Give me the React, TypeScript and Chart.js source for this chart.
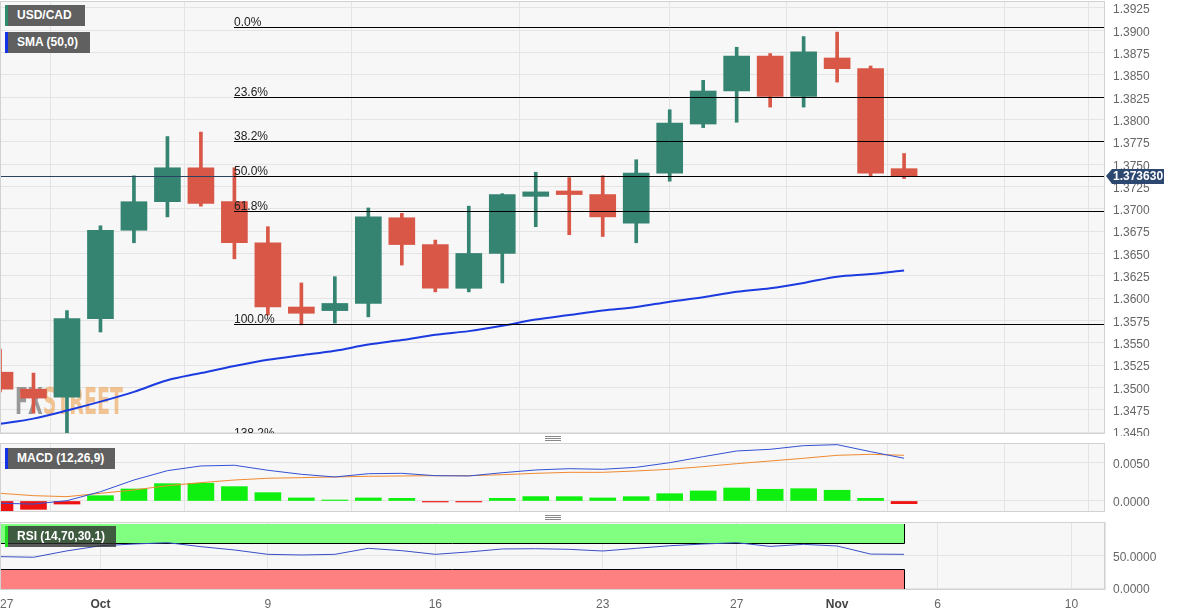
import React, { useEffect, useRef } from 'react';
import { Chart, registerables } from 'chart.js';
Chart.register(...registerables);

const FONT = '"Liberation Sans", Arial, sans-serif';

// trading sessions (x = position in this list)
const sessions = ['Sep 27', 'Sep 28', 'Sep 29', 'Oct 2', 'Oct 3', 'Oct 4', 'Oct 5', 'Oct 6', 'Oct 9', 'Oct 10',
  'Oct 11', 'Oct 12', 'Oct 13', 'Oct 16', 'Oct 17', 'Oct 18', 'Oct 19', 'Oct 20', 'Oct 23', 'Oct 24',
  'Oct 25', 'Oct 26', 'Oct 27', 'Oct 30', 'Oct 31', 'Nov 1', 'Nov 2', 'Nov 3'];

const opens = [1.3517, 1.3498, 1.3489, 1.3577, 1.3676, 1.3708, 1.3746, 1.3708, 1.3662, 1.3590,
  1.3586, 1.3594, 1.3690, 1.3660, 1.3611, 1.3650, 1.3714, 1.3720, 1.3716, 1.3684,
  1.3740, 1.3795, 1.3832, 1.3871, 1.3826, 1.3869, 1.3857, 1.3745];
const highs = [1.3543, 1.3516, 1.3586, 1.3681, 1.3737, 1.3781, 1.3786, 1.3746, 1.3680, 1.3617,
  1.3624, 1.3701, 1.3695, 1.3665, 1.3703, 1.3717, 1.3741, 1.3735, 1.3737, 1.3755,
  1.3811, 1.3844, 1.3881, 1.3874, 1.3893, 1.3898, 1.3860, 1.3762];
const lows = [1.3495, 1.3471, 1.3446, 1.3562, 1.3662, 1.3691, 1.3703, 1.3644, 1.3581, 1.3570,
  1.3572, 1.3579, 1.3637, 1.3607, 1.3607, 1.3617, 1.3680, 1.3671, 1.3669, 1.3662,
  1.3731, 1.3791, 1.3797, 1.3814, 1.3814, 1.3842, 1.3736, 1.3734];
const closes = [1.3498, 1.3488, 1.3577, 1.3676, 1.3708, 1.3746, 1.3706, 1.3662, 1.3590, 1.3583,
  1.3594, 1.3691, 1.3660, 1.3611, 1.3650, 1.3716, 1.3719, 1.3716, 1.3691, 1.3740,
  1.3796, 1.3832, 1.3871, 1.3826, 1.3876, 1.3857, 1.3740, 1.37363];

const sma50 = [1.3459, 1.3465, 1.3474, 1.3484, 1.3495, 1.3508, 1.3516, 1.3524, 1.3531, 1.3536,
  1.3541, 1.3548, 1.3553, 1.3559, 1.3563, 1.3569, 1.3576, 1.3581, 1.3586, 1.3590,
  1.3596, 1.3601, 1.3607, 1.3611, 1.3617, 1.3624, 1.3627, 1.3631];

const macdLine = [-0.0003, -0.0004, 0.00004, 0.00122, 0.00276, 0.00399, 0.00461, 0.0047, 0.00404, 0.00351,
  0.00316, 0.00359, 0.00364, 0.00333, 0.00329, 0.00372, 0.00408, 0.00425, 0.00417, 0.00443,
  0.00504, 0.00583, 0.00658, 0.0068, 0.00728, 0.00741, 0.00649, 0.00562];
const signalLine = [0.00101, 0.0007, 0.00057, 0.00101, 0.00145, 0.00201, 0.00241, 0.00276, 0.00299, 0.00307,
  0.00316, 0.00325, 0.00329, 0.00333, 0.00333, 0.00346, 0.00364, 0.00377, 0.00377, 0.00395,
  0.00417, 0.00452, 0.00491, 0.00526, 0.00562, 0.00601, 0.00614, 0.00601];
const macdHist = [-0.0013, -0.0011, -0.0004, 0.0007, 0.00158, 0.00228, 0.00233, 0.00189, 0.0011, 0.0004,
  0.00003, 0.0004, 0.00035, -0.00003, -0.00003, 0.00035, 0.00058, 0.00057, 0.0004, 0.00057,
  0.00096, 0.00132, 0.00171, 0.00154, 0.00162, 0.00141, 0.00035, -0.00035];

const rsi = [49, 48, 58, 66, 68.7, 70.8, 64.6, 59.4, 52.6, 51.6,
  52.6, 62, 58.3, 52.6, 56.3, 61, 61.4, 60.4, 57.8, 62,
  66, 68.7, 70.8, 65, 68.2, 65.6, 53, 52.6];

const xTickPos = [0, 3, 8, 13, 18, 22, 25, 28, 32, 33];
const xTickLabels = ['27', 'Oct', '9', '16', '23', '27', 'Nov', '6', '10', ''];
const monthTicks = ['Oct', 'Nov'];

const priceTicks = [1.3450, 1.3475, 1.3500, 1.3525, 1.3550, 1.3575, 1.3600, 1.3625, 1.3650, 1.3675,
  1.3700, 1.3725, 1.3750, 1.3775, 1.3800, 1.3825, 1.3850, 1.3875, 1.3900, 1.3925];
const macdTicks = [0, 0.005];
const rsiTicks = [0, 50];

const fibPercents = [0, 23.6, 38.2, 50, 61.8, 100, 138.2];
const fibLabels = ['0.0%', '23.6%', '38.2%', '50.0%', '61.8%', '100.0%', '138.2%'];
const fibHigh = 1.39035;
const fibLow = 1.35705;
const fibStartSession = 7;
const lastPrice = 1.37363;
const lastPriceLabel = '1.373630';

const X_MAX = 33;
const GREEN = '#358472';
const RED = '#d85747';
const GRID = '#e4e4e4';
const AXIS_W = 77;

const candleColors = opens.map((o, i) => (closes[i] >= o ? GREEN : RED));

function xScale(showLabels: boolean, height: number) {
  return {
    type: 'linear',
    min: 0,
    max: X_MAX,
    offset: false,
    afterBuildTicks: (s: any) => {
      s.ticks = xTickPos.map((v) => ({ value: v }));
    },
    afterFit: (s: any) => {
      s.height = height;
      s.paddingLeft = 0;
      s.paddingRight = 0;
    },
    ticks: {
      display: showLabels,
      autoSkip: false,
      maxRotation: 0,
      align: 'inner',
      padding: 7,
      callback: (_v: any, i: number) => xTickLabels[i],
      font: (ctx: any) => ({
        family: FONT,
        size: 12,
        weight: monthTicks.includes(xTickLabels[ctx.index]) ? 'bold' : 'normal',
      }),
      color: (ctx: any) => (monthTicks.includes(xTickLabels[ctx.index]) ? '#444' : '#666'),
    },
    grid: { color: GRID, drawTicks: false },
    border: { display: false },
  };
}

function yScale(min: number, max: number, ticks: number[]) {
  return {
    position: 'right',
    min,
    max,
    afterBuildTicks: (s: any) => {
      s.ticks = ticks.map((v) => ({ value: v }));
    },
    afterFit: (s: any) => {
      s.width = AXIS_W;
      s.paddingTop = 0;
      s.paddingBottom = 0;
    },
    ticks: {
      callback: (v: any) => Number(v).toFixed(4),
      color: '#666',
      font: { family: FONT, size: 12 },
      padding: 8,
      labelOffset: 2,
    },
    grid: { color: GRID, drawTicks: false },
    border: { display: false },
  };
}

const panelPlugin = {
  id: 'panel',
  beforeDraw(chart: any) {
    const { ctx, chartArea: a } = chart;
    ctx.save();
    ctx.fillStyle = '#f7f7f7';
    ctx.fillRect(a.left, a.top, a.right - a.left, a.bottom - a.top);
    ctx.restore();
  },
  afterDraw(chart: any) {
    const { ctx, chartArea: a } = chart;
    ctx.save();
    ctx.strokeStyle = '#d2d2d2';
    ctx.lineWidth = 1;
    ctx.strokeRect(a.left + 0.5, a.top + 0.5, a.right - a.left - 1, a.bottom - a.top - 1);
    ctx.restore();
  },
};

const watermarkPlugin = {
  id: 'watermark',
  beforeDatasetsDraw(chart: any) {
    const { ctx } = chart;
    ctx.save();
    ctx.font = `bold 37px "DejaVu Sans Condensed", "DejaVu Sans", ${FONT}`;
    const wFX = ctx.measureText('FX').width;
    const wAll = ctx.measureText('FXSTREET').width;
    const k = 108 / wAll;
    ctx.translate(15, 414);
    ctx.scale(k, 1);
    ctx.textBaseline = 'alphabetic';
    ctx.fillStyle = 'rgba(120,120,120,0.75)';
    ctx.fillText('FX', 0, 0);
    ctx.fillStyle = 'rgba(236,160,80,0.6)';
    ctx.fillText('STREET', wFX, 0);
    ctx.restore();
  },
};

const fibPlugin = {
  id: 'fib',
  afterDatasetsDraw(chart: any) {
    const { ctx, chartArea: a, scales } = chart;
    const x = scales.x;
    const y = scales.y;
    ctx.save();
    ctx.beginPath();
    ctx.rect(a.left, a.top, a.right - a.left, a.bottom - a.top);
    ctx.clip();
    const py = Math.round(y.getPixelForValue(lastPrice)) + 0.5;
    ctx.strokeStyle = '#2b4161';
    ctx.lineWidth = 1;
    ctx.beginPath();
    ctx.moveTo(a.left, py);
    ctx.lineTo(a.right, py);
    ctx.stroke();
    const x0 = Math.round(x.getPixelForValue(fibStartSession));
    ctx.font = `12px ${FONT}`;
    ctx.textBaseline = 'alphabetic';
    ctx.textAlign = 'left';
    fibPercents.forEach((p, k) => {
      const v = fibHigh - ((fibHigh - fibLow) * p) / 100;
      const yy = Math.round(y.getPixelForValue(v)) + 0.5;
      ctx.strokeStyle = '#000';
      ctx.beginPath();
      ctx.moveTo(x0, yy);
      ctx.lineTo(a.right, yy);
      ctx.stroke();
      ctx.fillStyle = '#222';
      ctx.fillText(fibLabels[k], x0, yy - 2);
    });
    ctx.restore();
  },
  afterDraw(chart: any) {
    const { ctx, chartArea: a, scales } = chart;
    const py = Math.round(scales.y.getPixelForValue(lastPrice));
    ctx.save();
    ctx.fillStyle = '#2c4770';
    ctx.beginPath();
    ctx.moveTo(a.right + 1, py);
    ctx.lineTo(a.right + 7, py - 7);
    ctx.lineTo(a.right + 59, py - 7);
    ctx.lineTo(a.right + 59, py + 8);
    ctx.lineTo(a.right + 7, py + 8);
    ctx.closePath();
    ctx.fill();
    ctx.fillStyle = '#fff';
    ctx.font = `bold 12px ${FONT}`;
    ctx.textBaseline = 'middle';
    ctx.textAlign = 'left';
    ctx.fillText(lastPriceLabel, a.right + 8, py + 1);
    ctx.restore();
  },
};

const rsiBandsPlugin = {
  id: 'rsiBands',
  beforeDatasetsDraw(chart: any) {
    const { ctx, chartArea: a, scales } = chart;
    const x = scales.x;
    const y = scales.y;
    const xr = Math.round(x.getPixelForValue(sessions.length - 1)) + 0.5;
    const l = a.left + 0.5;
    const y100 = Math.round(y.getPixelForValue(100));
    const y70 = Math.round(y.getPixelForValue(70)) + 0.5;
    const y30 = Math.round(y.getPixelForValue(30)) + 0.5;
    const y0 = Math.round(y.getPixelForValue(0)) + 1.5;
    ctx.save();
    ctx.fillStyle = '#80ff80';
    ctx.fillRect(a.left, y100, xr - a.left, y70 - y100);
    ctx.fillStyle = '#ff8080';
    ctx.fillRect(a.left, y30, xr - a.left, y0 - y30);
    ctx.strokeStyle = '#000';
    ctx.lineWidth = 1;
    ctx.beginPath();
    ctx.moveTo(l, y100);
    ctx.lineTo(l, y70);
    ctx.lineTo(xr, y70);
    ctx.lineTo(xr, y100);
    ctx.moveTo(l, y0);
    ctx.lineTo(l, y30);
    ctx.lineTo(xr, y30);
    ctx.lineTo(xr, y0);
    ctx.stroke();
    ctx.restore();
  },
};

const baseOptions = {
  responsive: false,
  animation: false,
  devicePixelRatio: 1,
  events: [],
};

const boxStyle = (left: number, top: number, width: number, strip: string, bg: string): React.CSSProperties => ({
  position: 'absolute',
  left,
  top,
  width,
  height: 21,
  background: bg,
  borderLeft: `3px solid ${strip}`,
  boxSizing: 'border-box',
  color: '#fff',
  font: `bold 12px ${FONT}`,
  lineHeight: '21px',
  paddingLeft: 9,
  whiteSpace: 'nowrap',
  zIndex: 2,
});

const handleStyle = (top: number): React.CSSProperties => ({
  position: 'absolute',
  left: 545,
  top,
  width: 16,
  height: 5,
  borderTop: '1px solid #888',
  borderBottom: '1px solid #888',
  boxSizing: 'border-box',
  zIndex: 2,
});

export default function App() {
  const mainRef = useRef<HTMLCanvasElement>(null);
  const macdRef = useRef<HTMLCanvasElement>(null);
  const rsiRef = useRef<HTMLCanvasElement>(null);

  useEffect(() => {
    const bodies = sessions.map((_, i) => ({ x: i, y: [opens[i], closes[i]] }));
    const wicks = sessions.map((_, i) => ({ x: i, y: [lows[i], highs[i]] }));

    const main = new Chart(mainRef.current as HTMLCanvasElement, {
      type: 'bar',
      data: {
        datasets: [
          {
            type: 'line',
            label: 'SMA (50,0)',
            data: sma50.map((v, i) => ({ x: i, y: v })),
            borderColor: '#1b3be0',
            borderWidth: 2,
            pointRadius: 0,
            cubicInterpolationMode: 'monotone',
            order: 0,
          } as any,
          {
            type: 'bar',
            label: 'body',
            data: bodies,
            backgroundColor: candleColors,
            barThickness: 26,
            grouped: false,
            minBarLength: 3,
            order: 1,
          } as any,
          {
            type: 'bar',
            label: 'wick',
            data: wicks,
            backgroundColor: candleColors,
            barThickness: 3,
            grouped: false,
            order: 2,
          } as any,
        ],
      },
      options: {
        ...baseOptions,
        layout: { padding: { top: 1, bottom: 2, left: 0, right: 0 } },
        plugins: { legend: { display: false }, tooltip: { enabled: false } },
        scales: {
          x: xScale(false, 0),
          y: yScale(1.344776, 1.393284, priceTicks),
        },
      } as any,
      plugins: [panelPlugin, watermarkPlugin, fibPlugin],
    });

    const macd = new Chart(macdRef.current as HTMLCanvasElement, {
      type: 'bar',
      data: {
        datasets: [
          {
            type: 'line',
            label: 'MACD',
            data: macdLine.map((v, i) => ({ x: i, y: v })),
            borderColor: '#3352d4',
            borderWidth: 1,
            pointRadius: 0,
            order: 0,
          } as any,
          {
            type: 'line',
            label: 'Signal',
            data: signalLine.map((v, i) => ({ x: i, y: v })),
            borderColor: '#f08a30',
            borderWidth: 1,
            pointRadius: 0,
            order: 1,
          } as any,
          {
            type: 'bar',
            label: 'Histogram',
            data: macdHist.map((v, i) => ({ x: i, y: v })),
            backgroundColor: macdHist.map((v) => (v >= 0 ? '#10f010' : '#ee1111')),
            barThickness: 26,
            grouped: false,
            minBarLength: 1,
            order: 2,
          } as any,
        ],
      },
      options: {
        ...baseOptions,
        layout: { padding: 0 },
        plugins: { legend: { display: false }, tooltip: { enabled: false } },
        scales: {
          x: xScale(false, 0),
          y: yScale(-0.00145, 0.00763, macdTicks),
        },
      } as any,
      plugins: [panelPlugin],
    });

    const rsiChart = new Chart(rsiRef.current as HTMLCanvasElement, {
      type: 'line',
      data: {
        datasets: [
          {
            label: 'RSI',
            data: rsi.map((v, i) => ({ x: i, y: v })),
            borderColor: '#3a4fc8',
            borderWidth: 1,
            pointRadius: 0,
          } as any,
        ],
      },
      options: {
        ...baseOptions,
        layout: { padding: 0 },
        plugins: { legend: { display: false }, tooltip: { enabled: false } },
        scales: {
          x: xScale(true, 26),
          y: yScale(-3.1, 103.1, rsiTicks),
        },
      } as any,
      plugins: [panelPlugin, rsiBandsPlugin],
    });

    return () => {
      main.destroy();
      macd.destroy();
      rsiChart.destroy();
    };
  }, []);

  return (
    <div style={{ position: 'absolute', left: 0, top: 0, width: 1182, height: 616, background: '#fff', overflow: 'hidden' }}>
      <canvas ref={mainRef} width={1182} height={436} style={{ position: 'absolute', left: 0, top: 0, width: 1182, height: 436 }} />
      <canvas ref={macdRef} width={1182} height={69} style={{ position: 'absolute', left: 0, top: 443, width: 1182, height: 69 }} />
      <canvas ref={rsiRef} width={1182} height={94} style={{ position: 'absolute', left: 0, top: 522, width: 1182, height: 94 }} />
      <div style={boxStyle(5, 5, 80, '#2e8b6e', '#606060')}>USD/CAD</div>
      <div style={boxStyle(5, 32, 85, '#1432e6', '#606060')}>SMA (50,0)</div>
      <div style={boxStyle(5, 448, 110, '#1432e6', '#606060')}>MACD (12,26,9)</div>
      <div style={boxStyle(5, 526, 111, '#22dd22', 'rgba(45,45,45,0.78)')}>RSI (14,70,30,1)</div>
      <div style={handleStyle(436)}><div style={{ borderTop: '1px solid #888', marginTop: 1 }} /></div>
      <div style={handleStyle(515)}><div style={{ borderTop: '1px solid #888', marginTop: 1 }} /></div>
    </div>
  );
}
